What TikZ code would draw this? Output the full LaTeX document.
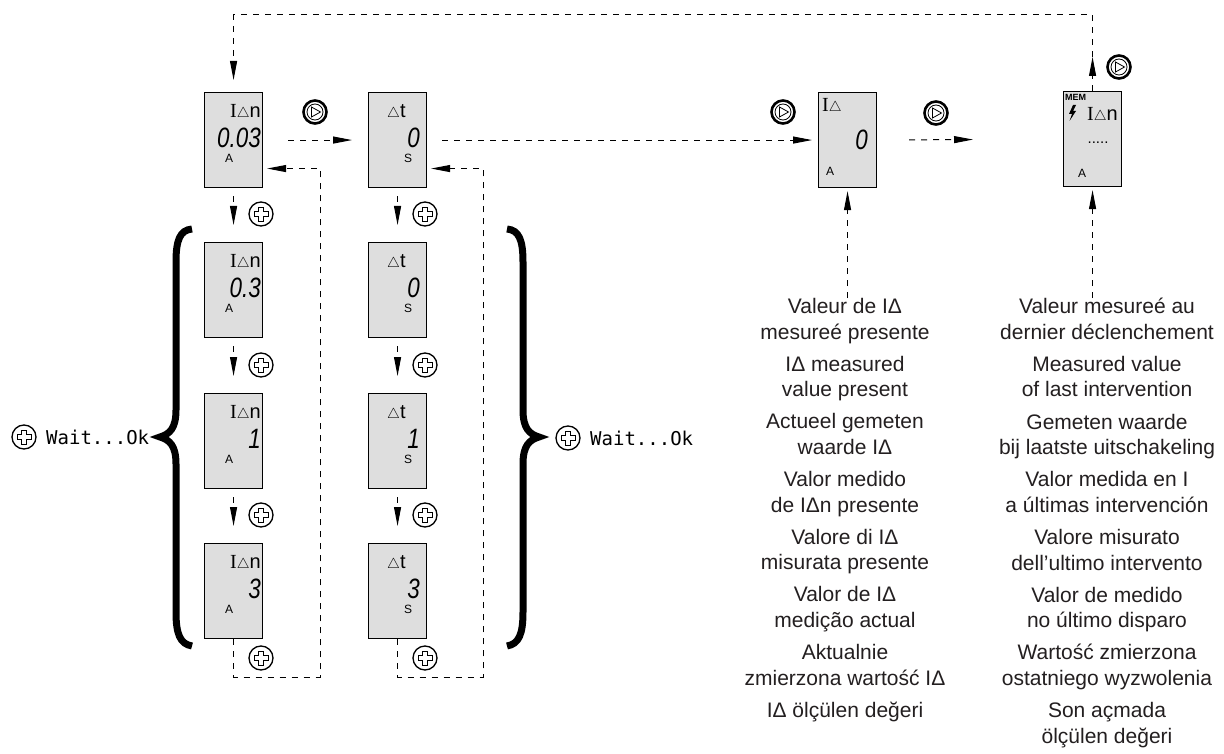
\documentclass[tikz,border=0pt]{standalone}
\usepackage{graphicx}
\usepackage{fontspec}
\setmainfont{Liberation Sans}
\newfontfamily\lcdmono{DejaVu Sans Mono}
\newfontfamily\lcdserif{Liberation Serif}
\usetikzlibrary{calc,arrows.meta}
\definecolor{lcdgray}{RGB}{222,222,222}
\definecolor{inkgray}{RGB}{35,31,32}

\tikzset{
	lcd/.style={draw=black, line width=1.1pt, fill=lcdgray, minimum width=58pt, minimum height=95pt, anchor=north west, inner sep=0pt},
	dashline/.style={line width=1pt, dash pattern=on 6pt off 6pt},
	flow/.style={dashline, -{Triangle[length=19pt,width=7pt]}},
	lcdtext/.style={inner sep=0pt, font={\fontsize{20}{20}\selectfont}},
	lcdvalue/.style={inner sep=0pt, font={\fontsize{28}{28}\selectfont\itshape}},
	lcdunit/.style={inner sep=0pt, font={\fontsize{12}{12}\selectfont}},
	memtext/.style={inner sep=0pt, font={\fontsize{9}{9}\selectfont\bfseries}},
	infotext/.style={align=center, inner sep=0pt, text=inkgray, font={\fontsize{21}{25.6}\selectfont}},
	waittext/.style={inner sep=0pt, anchor=west, font={\fontsize{19}{19}\lcdmono}},
	brace/.style={line width=7pt},
	plusbtn/.pic={
		\draw[line width=1.3pt, fill=white] (0,0) circle (12);
		\draw[line width=0.8pt] (-2.2,-7) -- (2.2,-7) -- (2.2,-2.2) -- (7,-2.2) -- (7,2.2) -- (2.2,2.2) -- (2.2,7) -- (-2.2,7) -- (-2.2,2.2) -- (-7,2.2) -- (-7,-2.2) -- (-2.2,-2.2) -- cycle;
	},
	playbtn/.pic={
		\draw[line width=2.6pt, fill=white] (0,0) circle (11.5);
		\draw[line width=0.8pt] (0,0) circle (8);
		\draw[line width=0.8pt] (-3.5,-5) -- (5.5,0) -- (-3.5,5) -- cycle;
	}
}

% display with I-delta-n reading
\def\lcdIn(#1)(#2)#3{%
	\node[lcd] (#1) at (#2) {};
	\node[lcdtext, anchor=east] (#1-lbl) at ($(#1.north west)+(57,20)$) {{\lcdserif I}$\scriptstyle\triangle$n};
	\node[lcdvalue, anchor=east] (#1-val) at ($(#1.north west)+(57,46)$) {\scalebox{0.8}[1]{#3}};
	\node[lcdunit] (#1-unit) at ($(#1.north west)+(25,66)$) {A};
}
% display with delta-t reading
\def\lcdDt(#1)(#2)#3{%
	\node[lcd] (#1) at (#2) {};
	\node[lcdtext, anchor=west] (#1-lbl) at ($(#1.north west)+(19,20)$) {$\scriptstyle\triangle$t};
	\node[lcdvalue, anchor=east] (#1-val) at ($(#1.north west)+(52,46)$) {\scalebox{0.8}[1]{#3}};
	\node[lcdunit] (#1-unit) at ($(#1.north west)+(40,66)$) {S};
}

\begin{document}
\begin{tikzpicture}[x=1pt, y=-1pt]
	%%%%% START %%%%%
	\fill[white] (0,0) rectangle (1224,754);
	\useasboundingbox (0,0) rectangle (1224,754);

	\lcdIn(d1)(204,92){0.03}
	\lcdIn(d2)(204,242){0.3}
	\lcdIn(d3)(204,393){1}
	\lcdIn(d4)(204,543){3}

	\lcdDt(t1)(368,92){0}
	\lcdDt(t2)(368,242){0}
	\lcdDt(t3)(368,393){1}
	\lcdDt(t4)(368,543){3}

	\node[lcd] (m1) at (818,92) {};
	\node[lcdtext, anchor=west] (m1-lbl) at ($(m1.north west)+(4,14)$) {{\lcdserif I}$\scriptstyle\triangle$};
	\node[lcdvalue, anchor=east] (m1-val) at ($(m1.north west)+(50,48)$) {\scalebox{0.8}[1]{0}};
	\node[lcdunit] (m1-unit) at ($(m1.north west)+(12,79)$) {A};

	\node[lcd] (m2) at (1063,91) {};
	\node[memtext, anchor=north west] (m2-mem) at ($(m2.north west)+(2,3)$) {MEM};
	\fill ($(m2.north west)+(10,14)$) -- ++(-4,9) -- ++(3,0) -- ++(-2.5,7) -- ++(6.5,-10) -- ++(-3,0) -- ++(3,-6) -- cycle;
	\node[lcdtext, anchor=east] (m2-lbl) at ($(m2.north west)+(55,24)$) {{\lcdserif I}$\scriptstyle\triangle$n};
	\node[lcdtext, font={\fontsize{15}{15}\selectfont}] (m2-dots) at ($(m2.north west)+(35,52)$) {.....};
	\node[lcdunit] (m2-unit) at ($(m2.north west)+(19,82)$) {A};

	% main row
	\draw[flow, shorten <=25pt, shorten >=16pt] (d1.east) -- (t1.west);
	\draw[flow, shorten <=15pt, shorten >=6pt] (t1.east) -- (m1.west);
	\draw[flow, shorten <=32pt, shorten >=90pt] (m1.east) -- (m2.west);
	\pic at (315,112) {playbtn};
	\pic at (783,112) {playbtn};
	\pic at (936,113) {playbtn};

	% back to the start
	\coordinate (topR) at ($(m2.north)+(0,-76)$);
	\draw[flow] (m2.north) -- ++(0,-34);
	\draw[flow] ($(m2.north)+(0,-34)$) -- (topR) -| ($(d1.north)+(0,-12)$);
	\pic at (1119,67) {playbtn};

	% setting columns
	\draw[flow, shorten <=8pt, shorten >=17pt] (d1.south) -- (d2.north);
	\draw[flow, shorten <=8pt, shorten >=17pt] (d2.south) -- (d3.north);
	\draw[flow, shorten <=8pt, shorten >=17pt] (d3.south) -- (d4.north);
	\draw[flow, shorten <=8pt, shorten >=17pt] (t1.south) -- (t2.north);
	\draw[flow, shorten <=8pt, shorten >=17pt] (t2.south) -- (t3.north);
	\draw[flow, shorten <=8pt, shorten >=17pt] (t3.south) -- (t4.north);
	\pic at (261,214) {plusbtn};
	\pic at (261,365) {plusbtn};
	\pic at (261,515) {plusbtn};
	\pic at (425,214) {plusbtn};
	\pic at (425,365) {plusbtn};
	\pic at (425,515) {plusbtn};

	\coordinate (loopA) at (320,677);
	\coordinate (loopB) at (483,677);
	\draw[flow] (d4.south) |- (loopA) |- ($(d1.east)+(4,28.5)$);
	\draw[flow] (t4.south) |- (loopB) |- ($(t1.east)+(4,28.5)$);
	\pic at (261,658) {plusbtn};
	\pic at (425,658) {plusbtn};

	% braces
	\draw[brace] (192,229) .. controls (180,230) and (176,240) .. (176,262) -- (176,410) .. controls (176,428) and (170,434) .. (160,437) .. controls (170,440) and (176,446) .. (176,464) -- (176,612) .. controls (176,634) and (180,644) .. (192,646);
	\draw[brace] (507,229) .. controls (519,230) and (523,240) .. (523,262) -- (523,410) .. controls (523,428) and (529,434) .. (539,437) .. controls (529,440) and (523,446) .. (523,464) -- (523,612) .. controls (523,634) and (519,644) .. (507,646);
	\pic at (24,437) {plusbtn};
	\node[waittext] (waitL) at (46,437) {Wait...Ok};
	\pic at (568,438) {plusbtn};
	\node[waittext] (waitR) at (590,438) {Wait...Ok};

	% readings
	\node[infotext, anchor=north] (val1) at (845,298) {Valeur de I\symbol{"0394} \\ mesureé presente \\[6.5pt]
		I\symbol{"0394} measured \\ value present \\[6.5pt]
		Actueel gemeten \\ waarde I\symbol{"0394} \\[6.5pt]
		Valor medido \\ de I\symbol{"0394}n presente \\[6.5pt]
		Valore di I\symbol{"0394} \\ misurata presente \\[6.5pt]
		Valor de I\symbol{"0394} \\ medição actual \\[6.5pt]
		Aktualnie \\ zmierzona wartość I\symbol{"0394} \\[6.5pt]
		I\symbol{"0394} ölçülen değeri};
	\node[infotext, anchor=north] (val2) at (1107,298) {Valeur mesureé au \\ dernier déclenchement \\[6.5pt]
		Measured value \\ of last intervention \\[6.5pt]
		Gemeten waarde \\ bij laatste uitschakeling \\[6.5pt]
		Valor medida en I \\ a últimas intervención \\[6.5pt]
		Valore misurato \\ dell’ultimo intervento \\[6.5pt]
		Valor de medido \\ no último disparo \\[6.5pt]
		Wartość zmierzona \\ ostatniego wyzwolenia \\[6.5pt]
		Son açmada \\ ölçülen değeri};
	\draw[flow, shorten >=3pt] (m1.south |- val1.north) -- (m1.south);
	\draw[flow, shorten >=3pt] (m2.south |- val2.north) -- (m2.south);
	%%%%% END %%%%%
\end{tikzpicture}
\end{document}
